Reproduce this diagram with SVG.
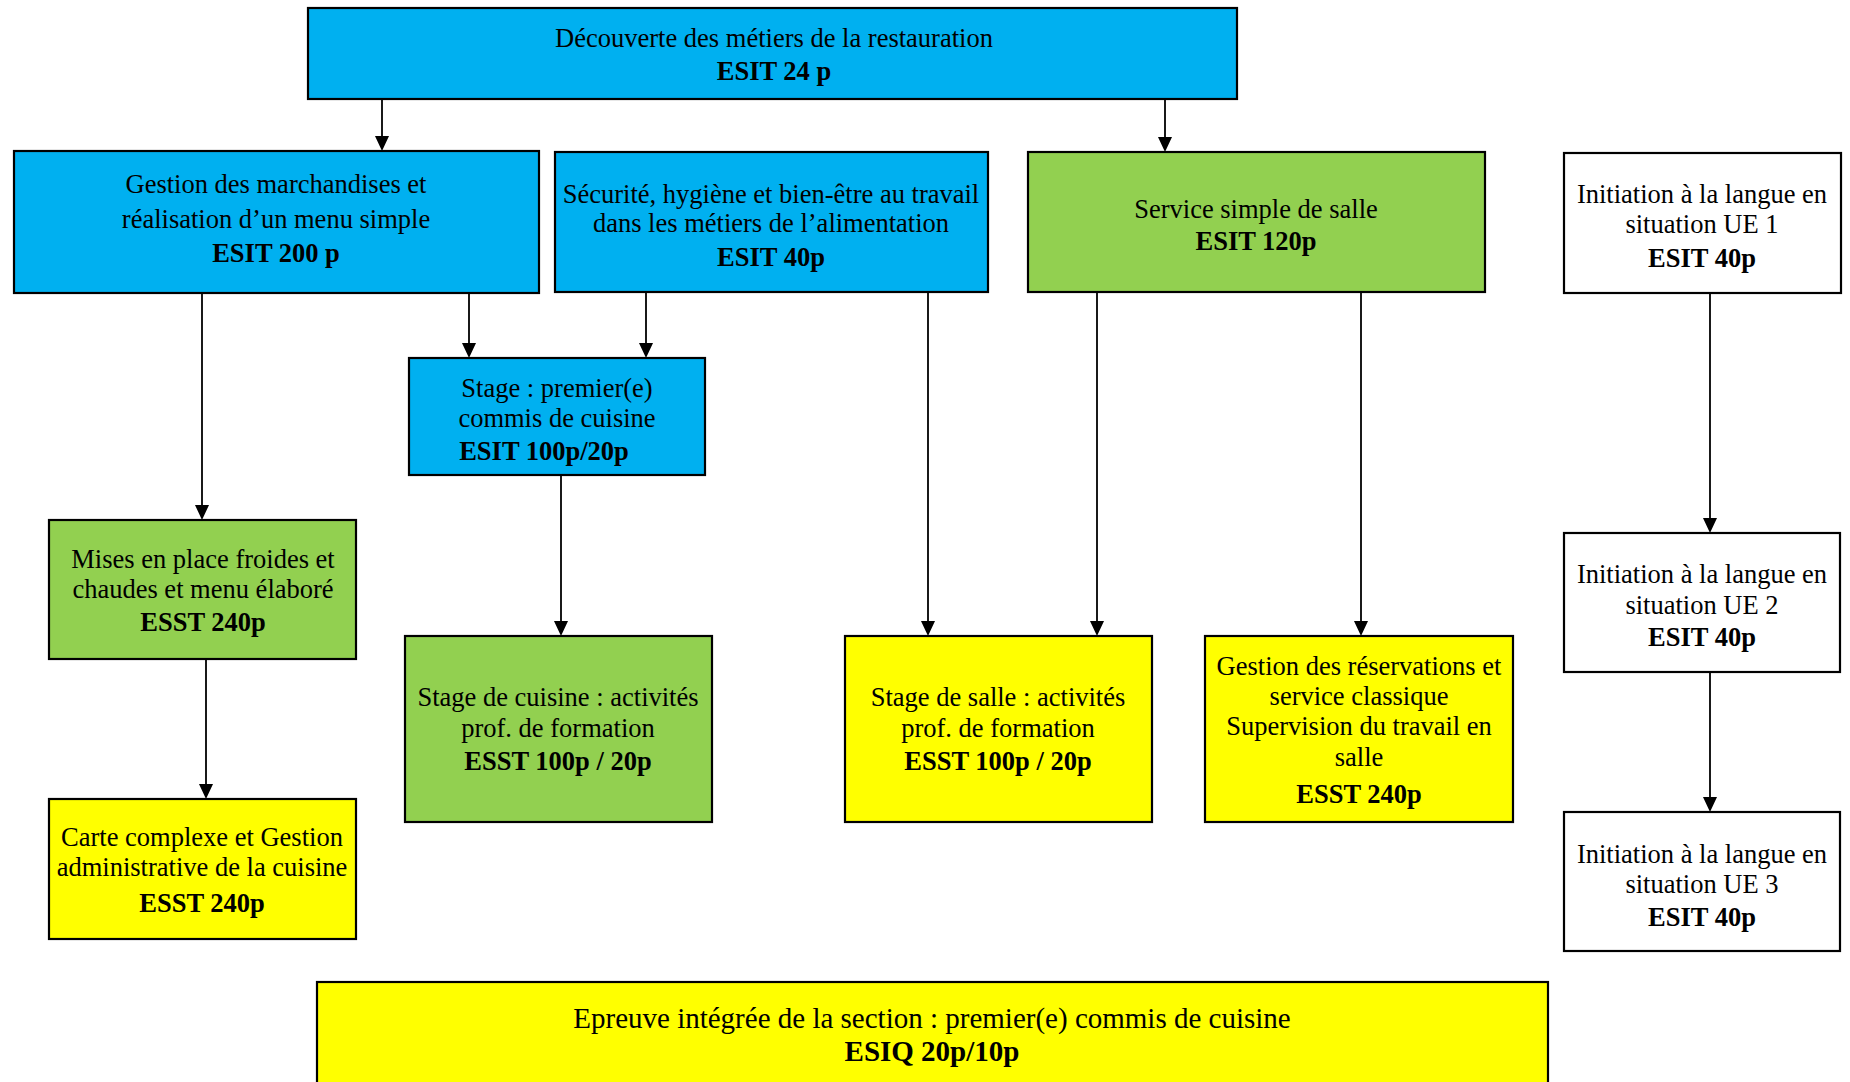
<svg xmlns="http://www.w3.org/2000/svg" width="1850" height="1082" viewBox="0 0 1850 1082">
<defs>
<style>
.n{stroke:#000;stroke-width:2.2}
.b{fill:#00B0F0}.g{fill:#92D050}.y{fill:#FFFF00}.w{fill:#FFFFFF}
text{font-family:"Liberation Serif","Times New Roman",serif;font-size:26.5px;fill:#000;text-anchor:middle}
.bd{font-weight:bold}
.lg{font-size:29px}
.c line{stroke:#000;stroke-width:1.8}
</style>
</defs>
<rect width="1850" height="1082" fill="#fff"/>
<g class="c">
<line x1="382" y1="99" x2="382" y2="136"/>
<line x1="1165" y1="99" x2="1165" y2="137"/>
<line x1="469" y1="293" x2="469" y2="343"/>
<line x1="646" y1="292" x2="646" y2="343"/>
<line x1="202" y1="293" x2="202" y2="505"/>
<line x1="206" y1="659" x2="206" y2="784"/>
<line x1="561" y1="475" x2="561" y2="621"/>
<line x1="928" y1="292" x2="928" y2="621"/>
<line x1="1097" y1="292" x2="1097" y2="621"/>
<line x1="1361" y1="292" x2="1361" y2="621"/>
<line x1="1710" y1="293" x2="1710" y2="518"/>
<line x1="1710" y1="672" x2="1710" y2="797"/>
<g fill="#000">
<path d="M375,136 L389,136 L382,151 Z"/>
<path d="M1158,137 L1172,137 L1165,152 Z"/>
<path d="M462,343 L476,343 L469,358 Z"/>
<path d="M639,343 L653,343 L646,358 Z"/>
<path d="M195,505 L209,505 L202,520 Z"/>
<path d="M199,784 L213,784 L206,799 Z"/>
<path d="M554,621 L568,621 L561,636 Z"/>
<path d="M921,621 L935,621 L928,636 Z"/>
<path d="M1090,621 L1104,621 L1097,636 Z"/>
<path d="M1354,621 L1368,621 L1361,636 Z"/>
<path d="M1703,518 L1717,518 L1710,533 Z"/>
<path d="M1703,797 L1717,797 L1710,812 Z"/>
</g>
</g>
<g id="decouverte"><rect class="n b" x="308" y="8" width="929" height="91"/>
<text x="774" y="47">Découverte des métiers de la restauration</text>
<text class="bd" x="774" y="80">ESIT 24 p</text></g>
<g id="gestion-marchandises"><rect class="n b" x="14" y="151" width="525" height="142"/>
<text x="276" y="193">Gestion des marchandises et</text>
<text x="276" y="228">réalisation d’un menu simple</text>
<text class="bd" x="276" y="262">ESIT 200 p</text></g>
<g id="securite"><rect class="n b" x="555" y="152" width="433" height="140"/>
<text x="771" y="203">Sécurité, hygiène et bien-être au travail</text>
<text x="771" y="232">dans les métiers de l’alimentation</text>
<text class="bd" x="771" y="266">ESIT 40p</text></g>
<g id="service-simple"><rect class="n g" x="1028" y="152" width="457" height="140"/>
<text x="1256" y="218">Service simple de salle</text>
<text class="bd" x="1256" y="250">ESIT 120p</text></g>
<g id="ue1"><rect class="n w" x="1564" y="153" width="277" height="140"/>
<text x="1702" y="203">Initiation à la langue en</text>
<text x="1702" y="233">situation UE 1</text>
<text class="bd" x="1702" y="267">ESIT 40p</text></g>
<g id="stage-commis"><rect class="n b" x="409" y="358" width="296" height="117"/>
<text x="557" y="397">Stage : premier(e)</text>
<text x="557" y="427">commis de cuisine</text>
<text class="bd" x="544" y="460">ESIT 100p/20p</text></g>
<g id="mises-en-place"><rect class="n g" x="49" y="520" width="307" height="139"/>
<text x="203" y="568">Mises en place froides et</text>
<text x="203" y="598">chaudes et menu élaboré</text>
<text class="bd" x="203" y="631">ESST 240p</text></g>
<g id="ue2"><rect class="n w" x="1564" y="533" width="276" height="139"/>
<text x="1702" y="583">Initiation à la langue en</text>
<text x="1702" y="614">situation UE 2</text>
<text class="bd" x="1702" y="646">ESIT 40p</text></g>
<g id="stage-cuisine"><rect class="n g" x="405" y="636" width="307" height="186"/>
<text x="558" y="706">Stage de cuisine : activités</text>
<text x="558" y="737">prof. de formation</text>
<text class="bd" x="558" y="770">ESST 100p / 20p</text></g>
<g id="stage-salle"><rect class="n y" x="845" y="636" width="307" height="186"/>
<text x="998" y="706">Stage de salle : activités</text>
<text x="998" y="737">prof. de formation</text>
<text class="bd" x="998" y="770">ESST 100p / 20p</text></g>
<g id="gestion-reservations"><rect class="n y" x="1205" y="636" width="308" height="186"/>
<text x="1359" y="675">Gestion des réservations et</text>
<text x="1359" y="705">service classique</text>
<text x="1359" y="735">Supervision du travail en</text>
<text x="1359" y="766">salle</text>
<text class="bd" x="1359" y="803">ESST 240p</text></g>
<g id="carte-complexe"><rect class="n y" x="49" y="799" width="307" height="140"/>
<text x="202" y="846">Carte complexe et Gestion</text>
<text x="202" y="876">administrative de la cuisine</text>
<text class="bd" x="202" y="912">ESST 240p</text></g>
<g id="ue3"><rect class="n w" x="1564" y="812" width="276" height="139"/>
<text x="1702" y="863">Initiation à la langue en</text>
<text x="1702" y="893">situation UE 3</text>
<text class="bd" x="1702" y="926">ESIT 40p</text></g>
<g id="epreuve"><rect class="n y" x="317" y="982" width="1231" height="110"/>
<text class="lg" x="932" y="1028">Epreuve intégrée de la section : premier(e) commis de cuisine</text>
<text class="bd lg" x="932" y="1061">ESIQ 20p/10p</text></g>
</svg>
